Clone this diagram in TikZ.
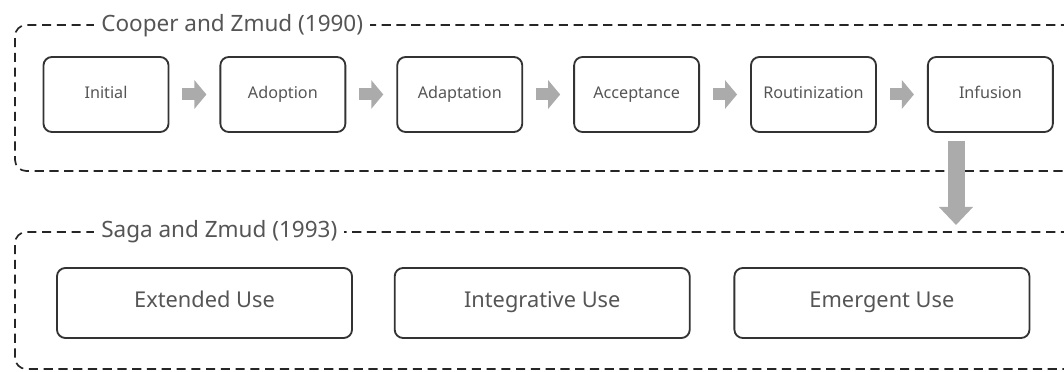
\documentclass[tikz,border=0pt]{standalone}
\usepackage{fontspec}
\setmainfont{Noto Sans}
\usetikzlibrary{positioning,arrows.meta}
\definecolor{labelgray}{HTML}{555555}
\definecolor{arrowgray}{HTML}{ABABAB}

\begin{document}
\begin{tikzpicture}[x=0.025cm,y=-0.025cm,node distance=1.25cm,
  stage/.style={draw=black!80,line width=1.3pt,rounded corners=6pt,minimum width=3.125cm,minimum height=1.875cm,text=labelgray,text height=1.5ex,text depth=0.4ex,font=\fontsize{11.5}{13}\selectfont},
  usebox/.style={stage,minimum width=7.375cm,minimum height=1.75cm,font=\fontsize{15.5}{18}\selectfont},
  frame/.style={dash pattern=on 6.5pt off 4pt,line width=1.2pt,rounded corners=8pt,black!85},
  frametitle/.style={fill=white,text=labelgray,anchor=west,inner xsep=5pt,font=\fontsize{16}{19}\selectfont},
  stagearrow/.style={arrowgray,line width=0.3cm,shorten <=0.325cm,shorten >=0.325cm,-{Triangle[width=0.7cm,length=0.3cm]}},
  droparrow/.style={arrowgray,line width=0.425cm,shorten <=0.2cm,shorten >=0.175cm,-{Triangle[width=0.825cm,length=0.45cm]}}]

  \useasboundingbox (0,0) rectangle (1064,372);

  % dashed frames, open to the right
  \draw[frame] (1070,25) -- (15,25) -- (15,171) -- (1070,171);
  \draw[frame] (1070,232) -- (15,232) -- (15,369) -- (1070,369);
  \node[frametitle] (cooper) at (94,26) {Cooper and Zmud (1990)};
  \node[frametitle] (saga) at (94,232) {Saga and Zmud (1993)};

  % Cooper and Zmud stages
  \node[stage] (initial) at (106,94.5) {Initial};
  \node[stage] (adoption) [right=of initial] {Adoption};
  \node[stage] (adaptation) [right=of adoption] {Adaptation};
  \node[stage] (acceptance) [right=of adaptation] {Acceptance};
  \node[stage] (routinization) [right=of acceptance] {Routinization};
  \node[stage] (infusion) [right=of routinization] {Infusion};

  \draw[stagearrow] (initial) -- (adoption);
  \draw[stagearrow] (adoption) -- (adaptation);
  \draw[stagearrow] (adaptation) -- (acceptance);
  \draw[stagearrow] (acceptance) -- (routinization);
  \draw[stagearrow] (routinization) -- (infusion);

  % Saga and Zmud uses
  \node[usebox] (extended) at (204.5,303) {Extended Use};
  \node[usebox] (integrative) [right=1.02cm of extended] {Integrative Use};
  \node[usebox] (emergent) [right=1.07cm of integrative] {Emergent Use};

  \coordinate (lowtop) at (956,232);
  \draw[droparrow] (infusion.south -| lowtop) -- (lowtop);
\end{tikzpicture}
\end{document}
